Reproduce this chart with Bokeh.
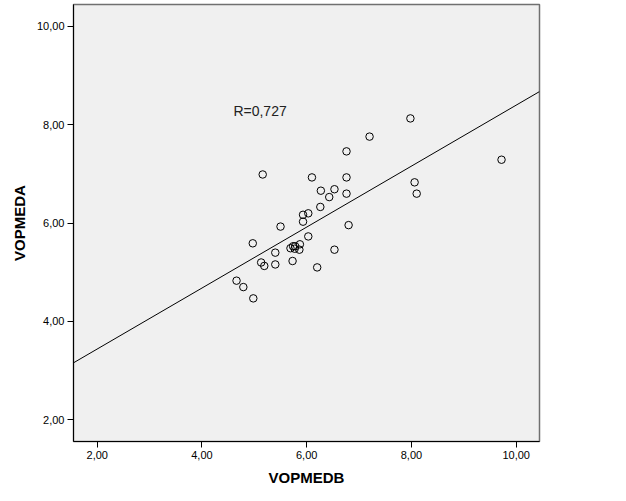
from bokeh.plotting import figure
from bokeh.models import Range1d, FixedTicker, CustomJSTickFormatter, ColumnDataSource
from bokeh.core.properties import value
from bokeh.embed import file_html
from bokeh.resources import INLINE

# Data
vopmedb = [7.98, 7.20, 6.76, 5.16, 6.10, 6.76, 9.72, 8.06, 8.10, 6.27, 6.53, 6.43,
           6.76, 6.26, 5.93, 6.03, 5.93, 5.50, 6.80, 6.03, 4.97, 6.53, 5.40, 5.13,
           5.19, 5.40, 5.73, 6.20, 4.66, 4.79, 4.98,
           5.69, 5.74, 5.78, 5.87, 5.86, 5.77]
vopmeda = [8.13, 7.76, 7.46, 6.99, 6.93, 6.93, 7.29, 6.83, 6.60, 6.66, 6.69, 6.53,
           6.60, 6.33, 6.17, 6.20, 6.03, 5.93, 5.96, 5.73, 5.59, 5.46, 5.40, 5.20,
           5.13, 5.16, 5.23, 5.10, 4.83, 4.70, 4.47,
           5.49, 5.53, 5.53, 5.57, 5.46, 5.48]
fit_intercept = 2.20
fit_slope = 0.62
r_label = "R=0,727"
ticks = [2, 4, 6, 8, 10]
x_title = "VOPMEDB"
y_title = "VOPMEDA"

x_lo, x_hi = 1.547, 10.445
y_lo, y_hi = 1.559, 10.447

p = figure(width=626, height=501, output_backend="svg", toolbar_location=None,
           x_range=Range1d(x_lo, x_hi), y_range=Range1d(y_lo, y_hi),
           min_border_left=73, min_border_right=87, min_border_top=4, min_border_bottom=60,
           background_fill_color="#f0f0f0", border_fill_color="white")
p.outline_line_color = "#707070"
p.outline_line_width = 1.5
p.grid.visible = False

fmt = CustomJSTickFormatter(code="return tick.toFixed(2).replace('.', ',');")
for ax in (p.xaxis[0], p.yaxis[0]):
    ax.ticker = FixedTicker(ticks=ticks)
    ax.formatter = fmt
    ax.minor_tick_line_color = None
    ax.major_tick_out = 6
    ax.major_tick_in = 0
    ax.major_tick_line_color = "black"
    ax.axis_line_color = "black"
    ax.major_label_text_font = "Liberation Sans"
    ax.major_label_text_font_size = "11px"
    ax.major_label_text_color = "black"
    ax.major_label_standoff = 3
    ax.axis_label_text_font = "Liberation Sans"
    ax.axis_label_text_font_size = "15px"
    ax.axis_label_text_font_style = "bold"
    ax.axis_label_text_color = "black"

p.xaxis.axis_label = x_title
p.yaxis.axis_label = y_title
p.xaxis.axis_label_standoff = 7
p.yaxis.axis_label_standoff = 6

# regression line
line_x = [x_lo, x_hi]
line_y = [fit_intercept + fit_slope * v for v in line_x]
p.line(line_x, line_y, line_color="black", line_width=1)

src = ColumnDataSource(dict(x=vopmedb, y=vopmeda))
p.scatter("x", "y", source=src, marker="circle", size=7.5, fill_color=None,
          line_color="black", line_width=1)

p.text(x=[4.60], y=[8.29], text=[r_label], text_font=value("Liberation Sans"),
       text_font_size="14px", text_color="#222222", text_align="left",
       text_baseline="middle")

open("out.html", "w").write(file_html(p, INLINE))
